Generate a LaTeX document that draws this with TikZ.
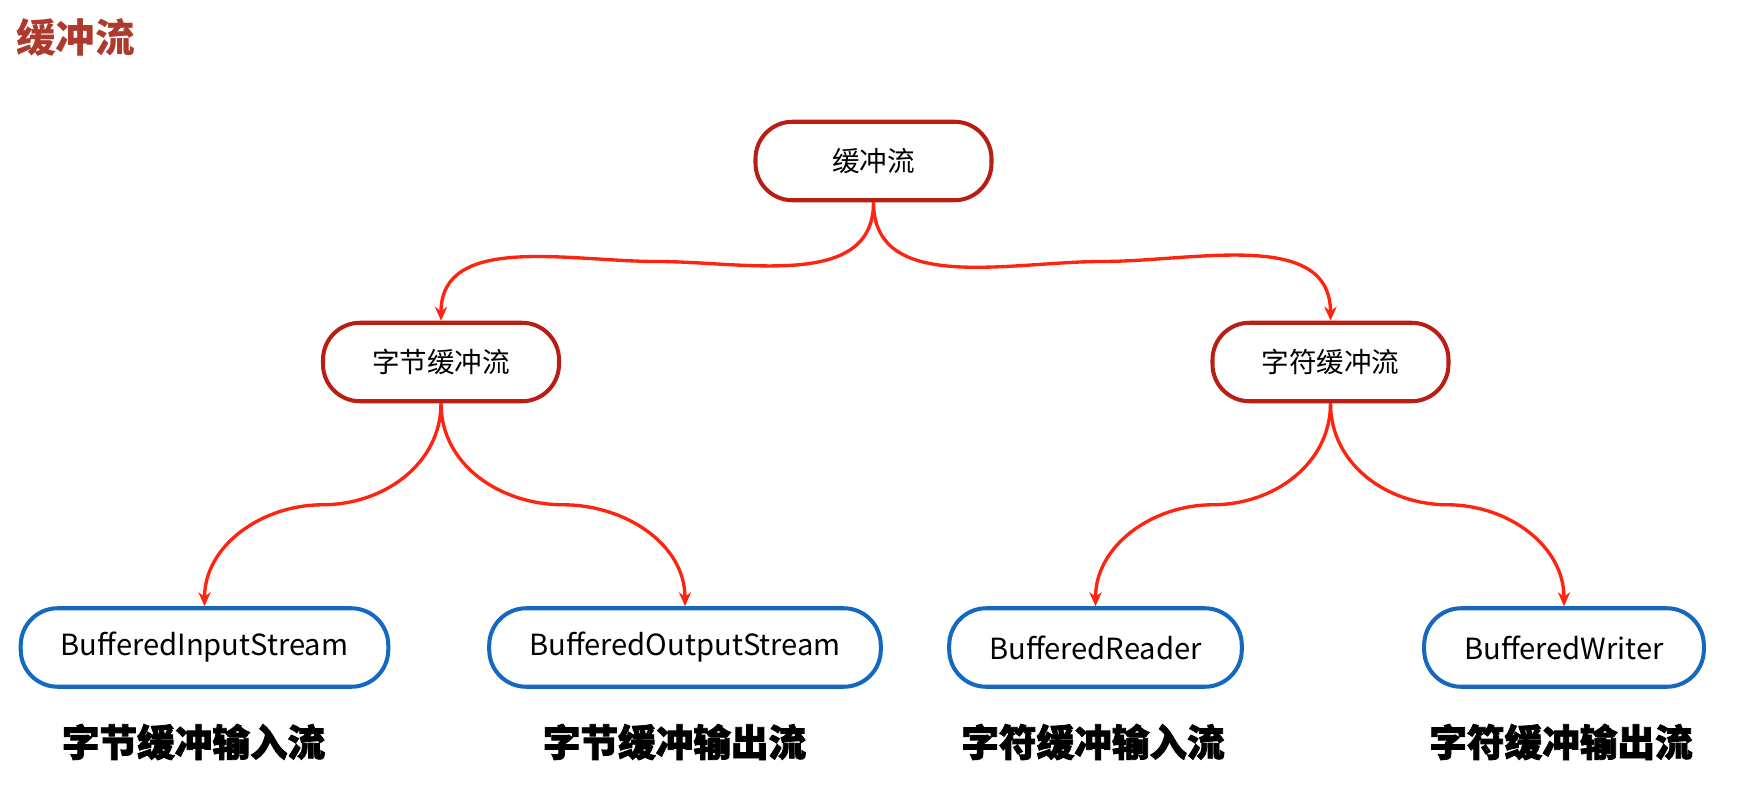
\documentclass[tikz,border=0pt]{standalone}
\usepackage{fontspec}
\setmainfont{Noto Sans CJK SC}[BoldFeatures={FakeBold=2}]
\newfontfamily\titlefont{Noto Sans CJK SC}
\usetikzlibrary{arrows.meta,calc}
\definecolor{boxred}{HTML}{B81E14}
\definecolor{boxblue}{HTML}{1568BF}
\definecolor{linkred}{HTML}{FF2410}
\definecolor{titlered}{HTML}{AD3A2C}
\newcommand{\lbl}[1]{\textbf{#1}}
\tikzset{
  redbox/.style={draw=boxred, line width=2.3pt, rounded corners=0.74cm, minimum width=4.72cm, minimum height=1.57cm, inner xsep=0.84cm, font=\fontsize{15.7}{18}\selectfont},
  bluebox/.style={draw=boxblue, line width=2.3pt, rounded corners=0.74cm, minimum width=4.72cm, minimum height=1.57cm, inner xsep=0.8cm, font=\fontsize{16.6}{18}\selectfont},
  namelbl/.style={font=\fontsize{21.4}{24}\selectfont},
  link/.style={draw=linkred, line width=1.9pt, -{Stealth[length=8pt,width=7pt]}}
}
\begin{document}
\begin{tikzpicture}
\useasboundingbox (0,0) rectangle (35.26,-15.84);
\node [anchor=west, text=titlered, font=\fontsize{22.5}{26}\titlefont\bfseries] (title) at (0.2,-0.74) {缓冲流};
\node [redbox] (root) at (17.47,-3.22) {缓冲流};
\node [redbox] (byte) at (8.82,-7.24) {字节缓冲流};
\node [redbox] (char) at (26.61,-7.24) {字符缓冲流};
\node [bluebox] (bis) at (4.09,-12.95) {BufferedInputStream};
\node [bluebox] (bos) at (13.70,-12.95) {BufferedOutputStream};
\node [bluebox] (br) at (21.91,-12.95) {BufferedReader};
\node [bluebox] (bw) at (31.28,-12.95) {BufferedWriter};
\node [namelbl] (bisname) at (3.87,-14.84) {\lbl{字节缓冲输入流}};
\node [namelbl] (bosname) at (13.49,-14.84) {\lbl{字节缓冲输出流}};
\node [namelbl] (brname) at (21.86,-14.84) {\lbl{字符缓冲输入流}};
\node [namelbl] (bwname) at (31.22,-14.84) {\lbl{字符缓冲输出流}};
\draw [link] (root.south) to[out=-90,in=0] ($(root.south)!0.5!(byte.north)$) to[out=180,in=90] (byte.north);
\draw [link] (root.south) to[out=-90,in=180] ($(root.south)!0.5!(char.north)$) to[out=0,in=90] (char.north);
\draw [link] (byte.south) to[out=-90,in=0] ($(byte.south)!0.5!(bis.north)$) to[out=180,in=90] (bis.north);
\draw [link] (byte.south) to[out=-90,in=180] ($(byte.south)!0.5!(bos.north)$) to[out=0,in=90] (bos.north);
\draw [link] (char.south) to[out=-90,in=0] ($(char.south)!0.5!(br.north)$) to[out=180,in=90] (br.north);
\draw [link] (char.south) to[out=-90,in=180] ($(char.south)!0.5!(bw.north)$) to[out=0,in=90] (bw.north);
\end{tikzpicture}
\end{document}
